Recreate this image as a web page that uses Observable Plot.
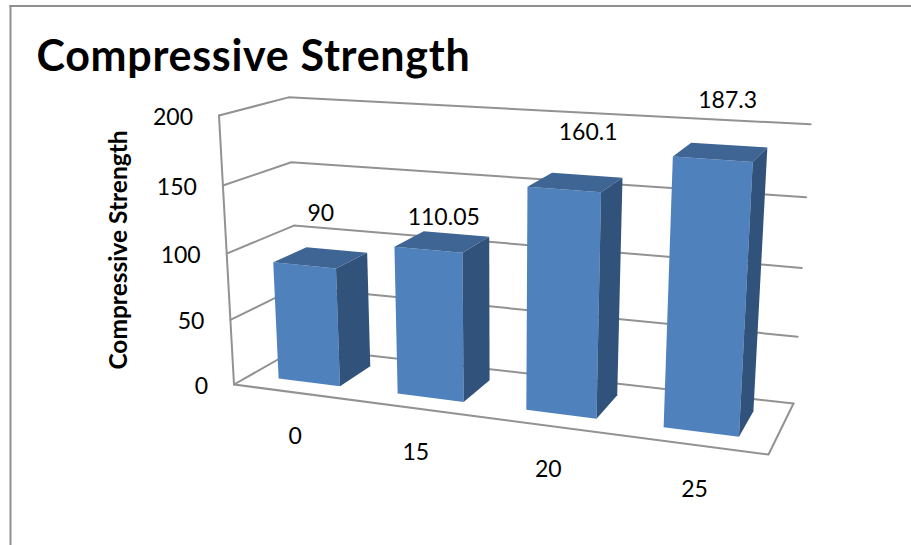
<!DOCTYPE html>
<html>
<head>
<meta charset="utf-8">
<script src="https://cdn.jsdelivr.net/npm/d3@7"></script>
<script src="https://cdn.jsdelivr.net/npm/@observablehq/plot@0.6"></script>
<style>
  html, body { margin: 0; padding: 0; background: #fff; overflow: hidden; }
  svg { display: block; }
  .chart-title text { letter-spacing: 0.7px; }
</style>
</head>
<body>
<div id="chart"></div>
<script>
// Chart values
const chartTitle = "Compressive Strength";
const yAxisLabel = "Compressive Strength";
const categories = ["0", "15", "20", "25"];
const strength = [90, 110.05, 160.1, 187.3];
const valueTicks = [0, 50, 100, 150, 200];

// Nudges for the value labels, which sit loosely above each column
const labelNudgeX = [3, 7, 19, 10];
const labelNudgeY = [-44, -24, -49, -51];

// Floor of the 3D box, corners as [front-left, back-left, back-right, front-right]
const floorQuad = [[233.5, 384], [298.5, 347], [793, 403], [768, 454]];
// Point on the page where the box's upright edges converge
const verticalVanish = [501, 5181];
// Height growth of the upright edges, and how it changes across and along the floor
const heightGain = 0.0531;
const gainAcross = -0.1173;
const gainDeep = 0.0793;
const valueMax = 200;

// Column extents, in category units and floor depth
const columnStart = [0.255, 1.28, 2.29, 3.27];
const columnEnd = [0.795, 1.81, 2.803, 3.77];
const columnDepth = [0.24, 0.75];

// Map the unit square onto a quadrilateral with a perspective transform
function homography([p0, p1, p2, p3]) {
  // u runs front-left to front-right, v runs front to back
  const [x0, y0] = p0, [x1, y1] = p3, [x2, y2] = p2, [x3, y3] = p1;
  const dx1 = x1 - x2, dx2 = x3 - x2, sx = x0 - x1 + x2 - x3;
  const dy1 = y1 - y2, dy2 = y3 - y2, sy = y0 - y1 + y2 - y3;
  const den = dx1 * dy2 - dx2 * dy1;
  const g = (sx * dy2 - dx2 * sy) / den;
  const h = (dx1 * sy - sx * dy1) / den;
  const a = x1 - x0 + g * x1, b = x3 - x0 + h * x3;
  const d = y1 - y0 + g * y1, e = y3 - y0 + h * y3;
  return (u, v) => {
    const w = g * u + h * v + 1;
    return [(a * u + b * v + x0) / w, (d * u + e * v + y0) / w];
  };
}
const floorAt = homography(floorQuad);

// Project (category position, depth 0..1, value) to the page plane
function project(c, d, value) {
  const u = c / categories.length;
  const [fx, fy] = floorAt(u, d);
  const gain = heightGain / (1 + gainAcross * u + gainDeep * d);
  const s = 1 / (1 - (value / valueMax) * gain);
  const [vx, vy] = verticalVanish;
  return { x: vx + (fx - vx) * s, y: vy + (fy - vy) * s };
}

function polyline(id, corners) {
  return corners.map(([c, d, v]) => ({ id, ...project(c, d, v) }));
}

// Wall gridlines, floor outline and the front vertical value axis
const n = categories.length;
const gridLines = valueTicks.flatMap((v) =>
  polyline(`grid-${v}`, [[0, 0, v], [0, 1, v], [n, 1, v]])
);
const floorEdge = polyline("floor", [[0, 0, 0], [n, 0, 0], [n, 1, 0]]);
const axisEdge = polyline("axis", [[0, 0, 0], [0, 0, valueMax]]);

// Column faces
const [dFront, dBack] = columnDepth;
const columns = strength.map((v, i) => ({ v, c0: columnStart[i], c1: columnEnd[i] }));
const frontFaces = columns.flatMap(({ v, c0, c1 }, i) =>
  polyline(`front-${i}`, [[c0, dFront, 0], [c1, dFront, 0], [c1, dFront, v], [c0, dFront, v]])
);
const sideFaces = columns.flatMap(({ v, c1 }, i) =>
  polyline(`side-${i}`, [[c1, dFront, 0], [c1, dBack, 0], [c1, dBack, v], [c1, dFront, v]])
);
const topFaces = columns.flatMap(({ v, c0, c1 }, i) =>
  polyline(`top-${i}`, [[c0, dFront, v], [c1, dFront, v], [c1, dBack, v], [c0, dBack, v]])
);

// Text anchored to the projected geometry
const tickLabels = valueTicks.map((v) => {
  const p = project(0, 0, v);
  return { text: String(v), x: p.x - 26, y: p.y + 2 };
});
const categoryLabels = categories.map((text, i) => {
  const p = project(i + 0.5, 0, 0);
  return { text, x: p.x + 5, y: p.y + 45 };
});
const valueLabels = strength.map((v, i) => {
  const p = project(i + 0.5, (dFront + dBack) / 2, v);
  return { text: String(v), x: p.x + labelNudgeX[i], y: p.y + labelNudgeY[i] };
});

const gridColor = "#929292";
const faceFont = "Lato, Carlito, Calibri, sans-serif";

const chart = Plot.plot({
  width: 911,
  height: 545,
  marginTop: 5.5,
  marginLeft: 10,
  marginRight: 0,
  marginBottom: 0,
  style: { background: "#fff" },
  x: { domain: [10, 911], axis: null },
  y: { domain: [545, 5.5], axis: null },
  marks: [
    Plot.frame({ anchor: "top", stroke: "#8f8f8f", strokeWidth: 2 }),
    Plot.frame({ anchor: "left", stroke: "#8f8f8f", strokeWidth: 2 }),

    Plot.line(gridLines, { x: "x", y: "y", z: "id", stroke: gridColor, strokeWidth: 2 }),
    Plot.line(floorEdge, { x: "x", y: "y", z: "id", stroke: gridColor, strokeWidth: 2 }),
    Plot.line(axisEdge, { x: "x", y: "y", z: "id", stroke: gridColor, strokeWidth: 2 }),

    Plot.line(frontFaces, { x: "x", y: "y", z: "id", fill: "#4f81bd" }),
    Plot.line(sideFaces, { x: "x", y: "y", z: "id", fill: "#31527b" }),
    Plot.line(topFaces, { x: "x", y: "y", z: "id", fill: "#3e6594" }),

    Plot.text(tickLabels, { x: "x", y: "y", text: "text", textAnchor: "end", fontFamily: faceFont, fontSize: 23, fill: "#000" }),
    Plot.text(categoryLabels, { x: "x", y: "y", text: "text", fontFamily: faceFont, fontSize: 23, fill: "#000" }),
    Plot.text(valueLabels, { x: "x", y: "y", text: "text", fontFamily: faceFont, fontSize: 23, fill: "#000" }),

    Plot.text([chartTitle], { x: 36, y: 57, text: (d) => d, textAnchor: "start", fontFamily: faceFont, fontSize: 43, fontWeight: 700, fill: "#000", className: "chart-title" }),
    Plot.text([yAxisLabel], { x: 119, y: 249.5, text: (d) => d, rotate: -90, fontFamily: faceFont, fontSize: 24.5, fontWeight: 700, fill: "#000" })
  ]
});
document.getElementById("chart").append(chart);
</script>
</body>
</html>
